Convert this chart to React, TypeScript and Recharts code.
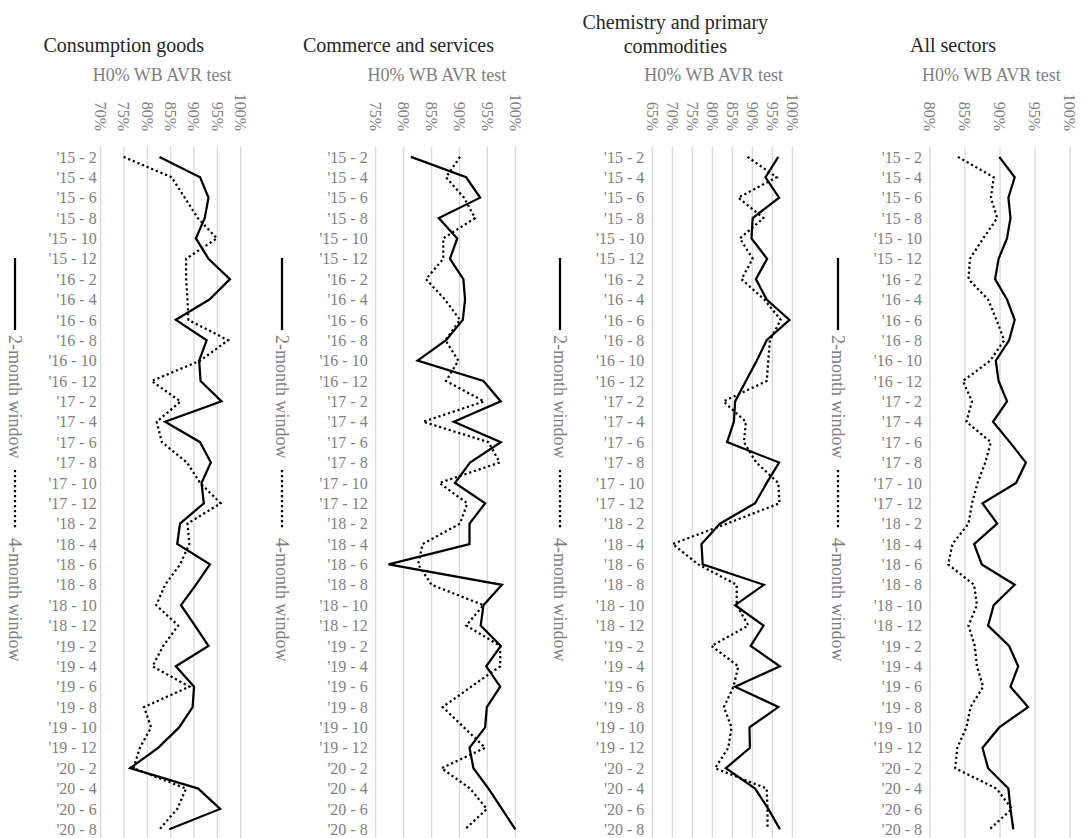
import React from "react";
import { CartesianGrid, Line, LineChart, XAxis, YAxis } from "recharts";

const FONT = "'Liberation Serif', 'Times New Roman', serif";
const GRAY = "#7f7f7f";
const GRID = "#d9d9d9";

const months = [
  "'15 - 2", "'15 - 4", "'15 - 6", "'15 - 8", "'15 - 10", "'15 - 12",
  "'16 - 2", "'16 - 4", "'16 - 6", "'16 - 8", "'16 - 10", "'16 - 12",
  "'17 - 2", "'17 - 4", "'17 - 6", "'17 - 8", "'17 - 10", "'17 - 12",
  "'18 - 2", "'18 - 4", "'18 - 6", "'18 - 8", "'18 - 10", "'18 - 12",
  "'19 - 2", "'19 - 4", "'19 - 6", "'19 - 8", "'19 - 10", "'19 - 12",
  "'20 - 2", "'20 - 4", "'20 - 6", "'20 - 8",
];

// H0% WB AVR test, in percent
const consumption2m = [82.6, 91.3, 93.1, 92.3, 90.4, 93.1, 97.7, 93.3, 86.1, 92.7, 91.1, 91.4, 95.9, 83.8, 91.3, 93.6, 91.6, 92.1, 87.0, 86.4, 93.4, 90.4, 87.2, 90.2, 93.1, 86.1, 90.0, 89.7, 86.8, 82.3, 76.3, 90.9, 95.6, 84.7];
const consumption4m = [74.9, 85.2, 88.0, 90.8, 94.9, 88.3, 88.3, 88.6, 88.8, 97.3, 91.3, 80.9, 87.1, 82.0, 83.1, 88.5, 91.3, 95.7, 88.6, 89.0, 87.0, 83.8, 81.9, 86.6, 83.4, 81.1, 89.0, 79.3, 80.8, 78.4, 77.0, 88.3, 86.4, 82.6];

const commerce2m = [81.3, 91.2, 93.7, 86.3, 89.6, 88.3, 90.7, 91.0, 90.6, 87.6, 82.5, 94.3, 97.4, 89.0, 97.4, 91.9, 89.2, 94.6, 91.8, 91.8, 77.3, 97.6, 94.3, 93.8, 97.4, 94.8, 97.3, 94.9, 94.6, 91.8, 92.5, 95.2, 97.6, 100.0];
const commerce4m = [90.1, 87.6, 90.8, 92.8, 87.1, 87.1, 84.0, 87.4, 90.1, 87.5, 89.8, 87.6, 94.4, 83.5, 95.2, 97.2, 86.4, 91.4, 90.1, 83.4, 82.6, 85.0, 94.3, 91.2, 97.3, 97.3, 92.1, 87.0, 90.8, 94.6, 86.8, 91.9, 94.9, 91.0];

const chemistry2m = [96.5, 93.3, 96.7, 90.1, 89.8, 93.7, 90.9, 93.6, 99.3, 93.6, 91.1, 88.4, 85.7, 85.4, 83.7, 96.7, 93.6, 90.7, 81.9, 77.3, 77.6, 92.9, 85.7, 92.8, 89.6, 96.9, 85.7, 96.5, 89.3, 89.4, 83.4, 90.7, 94.0, 96.9];
const chemistry4m = [88.8, 96.1, 86.5, 92.8, 86.9, 90.1, 87.3, 93.0, 97.1, 94.4, 94.0, 93.6, 82.8, 88.4, 87.9, 91.0, 96.5, 96.8, 83.6, 70.1, 76.5, 86.1, 86.1, 89.0, 79.8, 86.5, 85.3, 82.9, 84.8, 84.0, 80.7, 93.6, 93.8, 93.8];

const allSectors2m = [89.9, 92.1, 91.2, 91.5, 91.0, 89.8, 89.3, 91.0, 92.1, 91.3, 89.4, 89.8, 91.0, 89.0, 91.4, 93.7, 92.3, 87.5, 89.6, 86.3, 87.4, 92.1, 89.1, 88.3, 91.3, 92.6, 91.5, 94.0, 89.9, 87.5, 88.3, 91.2, 91.5, 91.9];
const allSectors4m = [84.0, 89.1, 88.7, 89.6, 87.6, 85.7, 85.5, 88.3, 89.5, 90.6, 88.6, 84.7, 86.0, 85.2, 88.7, 87.9, 86.8, 86.0, 85.5, 83.2, 82.6, 86.3, 86.7, 85.5, 86.4, 86.7, 87.6, 85.8, 85.2, 83.9, 83.6, 89.5, 91.7, 88.5];

const ticks70 = [70, 75, 80, 85, 90, 95, 100];
const ticks75 = [75, 80, 85, 90, 95, 100];
const ticks65 = [65, 70, 75, 80, 85, 90, 95, 100];
const ticks80 = [80, 85, 90, 95, 100];

const CHART_H = 850;
const PLOT_TOP = 146.7;
const PLOT_BOTTOM = 839.5;
const HALF_BAND = (PLOT_BOTTOM - PLOT_TOP) / 34 / 2;

function PercentTick(props: any) {
  const { x, payload } = props;
  const y = 131;
  return (
    <text
      x={x}
      y={y}
      dy="0.35em"
      textAnchor="end"
      transform={`rotate(90 ${x} ${y})`}
      fill={GRAY}
      fontSize={16}
      fontFamily={FONT}
    >
      {payload.value}%
    </text>
  );
}

function LegendStrip({ cx }: { cx: number }) {
  return (
    <svg style={{ position: "absolute", left: cx - 15, top: 0 }} width={30} height={838}>
      <line x1={15} x2={15} y1={258} y2={330} stroke="#000" strokeWidth={2.25} />
      <text transform="translate(15 335) rotate(90)" dy="0.35em" fill={GRAY} fontSize={18} fontFamily={FONT}>
        2-month window
      </text>
      <line x1={15} x2={15} y1={470} y2={530} stroke="#000" strokeWidth={2.25} strokeDasharray="2.2 2.8" />
      <text transform="translate(15 538) rotate(90)" dy="0.35em" fill={GRAY} fontSize={18} fontFamily={FONT}>
        4-month window
      </text>
    </svg>
  );
}

interface PanelProps {
  left: number;
  width: number;
  yWidth: number;
  plotWidth: number;
  domain: [number, number];
  ticks: number[];
  twoMonth: number[];
  fourMonth: number[];
  title: string[];
  legendX: number;
  labelGap: number;
}

function Panel({ left, width, yWidth, plotWidth, domain, ticks, twoMonth, fourMonth, title, legendX, labelGap }: PanelProps) {
  const rows = months.map((m, i) => ({ month: m, w2: twoMonth[i], w4: fourMonth[i] }));
  const plotCenter = left + yWidth + plotWidth / 2;
  const titleTop = title.length > 1 ? 10 : 33;
  return (
    <>
      <div
        style={{
          position: "absolute",
          left: plotCenter - 47 - 150,
          width: 300,
          top: titleTop,
          textAlign: "center",
          fontFamily: FONT,
          fontSize: 20,
          lineHeight: "24px",
          color: "#262626",
        }}
      >
        {title.map((t) => (
          <div key={t}>{t}</div>
        ))}
      </div>
      <LegendStrip cx={legendX} />
      <div style={{ position: "absolute", left, top: 0 }}>
        <LineChart
          width={width}
          height={CHART_H}
          data={rows}
          layout="vertical"
          margin={{ top: 0, left: 0, right: width - yWidth - plotWidth, bottom: CHART_H - PLOT_BOTTOM }}
        >
          <CartesianGrid horizontal={false} stroke={GRID} strokeWidth={1.3} />
          <XAxis
            type="number"
            orientation="top"
            domain={domain}
            ticks={ticks}
            interval={0}
            height={PLOT_TOP}
            axisLine={false}
            tickLine={false}
            tick={(p: any) => <PercentTick {...p} />}
            label={{
              content: (p: any) => {
                const vb = p.viewBox || {};
                return (
                  <text
                    x={vb.x + vb.width / 2 - 8.6}
                    y={81}
                    textAnchor="middle"
                    fill={GRAY}
                    fontSize={18}
                    fontFamily={FONT}
                  >
                    H0% WB AVR test
                  </text>
                );
              },
            }}
          />
          <YAxis
            type="category"
            dataKey="month"
            width={yWidth}
            interval={0}
            padding={{ top: HALF_BAND, bottom: HALF_BAND }}
            axisLine={false}
            tickLine={false}
            tickSize={0}
            tickMargin={labelGap}
            tick={{ fill: GRAY, fontSize: 16, fontFamily: FONT }}
          />
          <Line
            dataKey="w4"
            type="linear"
            stroke="#000"
            strokeWidth={2.25}
            strokeDasharray="2.2 2.8"
            dot={false}
            activeDot={false}
            isAnimationActive={false}
          />
          <Line
            dataKey="w2"
            type="linear"
            stroke="#000"
            strokeWidth={2.25}
            dot={false}
            activeDot={false}
            isAnimationActive={false}
          />
        </LineChart>
      </div>
    </>
  );
}

export default function App() {
  return (
    <div
      style={{
        position: "absolute",
        left: 0,
        top: 0,
        width: 1088,
        height: 838,
        overflow: "hidden",
        background: "#fff",
      }}
    >
      <Panel
        left={0}
        width={260}
        yWidth={100.7}
        plotWidth={140}
        domain={[70, 100]}
        ticks={ticks70}
        twoMonth={consumption2m}
        fourMonth={consumption4m}
        title={["Consumption goods"]}
        legendX={15}
        labelGap={4}
      />
      <Panel
        left={260}
        width={270}
        yWidth={115.7}
        plotWidth={139.6}
        domain={[75, 100]}
        ticks={ticks75}
        twoMonth={commerce2m}
        fourMonth={commerce4m}
        title={["Commerce and services"]}
        legendX={282}
        labelGap={8}
      />
      <Panel
        left={530}
        width={280}
        yWidth={122.3}
        plotWidth={140}
        domain={[65, 100]}
        ticks={ticks65}
        twoMonth={chemistry2m}
        fourMonth={chemistry4m}
        title={["Chemistry and primary", "commodities"]}
        legendX={560}
        labelGap={8}
      />
      <Panel
        left={810}
        width={278}
        yWidth={120}
        plotWidth={140}
        domain={[80, 100]}
        ticks={ticks80}
        twoMonth={allSectors2m}
        fourMonth={allSectors4m}
        title={["All sectors"]}
        legendX={838}
        labelGap={8}
      />
    </div>
  );
}
